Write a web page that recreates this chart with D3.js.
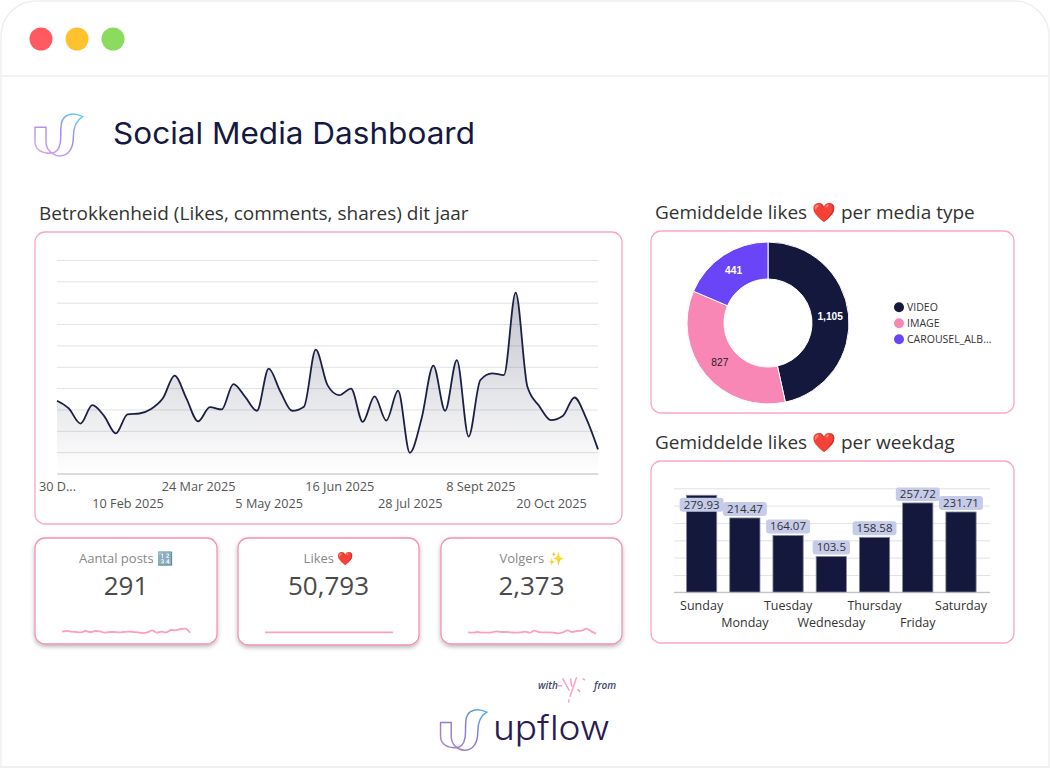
<!DOCTYPE html>
<html>

<head>
  <title>Social Media Dashboard</title>
  <style>
    html, body { margin: 0; padding: 0; background: #fff; overflow: hidden; }
    text { font-family: "Open Sans", "Noto Sans", sans-serif; }
  </style>
</head>

<body>

  <svg id="main" width="1050" height="768"></svg>

  <script src="https://cdn.jsdelivr.net/npm/d3@7"></script>
  <script>

    // weekly engagement, 30 Dec 2024 up to 17 Nov 2025
    const engagementValues = [
      341, 305, 234, 320, 270, 188, 277, 281, 302, 352, 458, 352,
      244, 311, 300, 419, 359, 294, 491, 383, 294, 313, 580, 414,
      367, 398, 242, 361, 248, 388, 97, 258, 505, 294, 531, 173,
      438, 469, 461, 847, 406, 316, 250, 269, 356, 258, 113
    ]
    const engagementTicks = ['2024-12-30', '2025-02-10', '2025-03-24', '2025-05-05', '2025-06-16', '2025-07-28', '2025-09-08', '2025-10-20']
    const engagementTickLabels = ['30 D...', '10 Feb 2025', '24 Mar 2025', '5 May 2025', '16 Jun 2025', '28 Jul 2025', '8 Sept 2025', '20 Oct 2025']

    const mediaTypes = ['VIDEO', 'IMAGE', 'CAROUSEL_ALB...']
    const mediaLikes = [1105, 827, 441]
    const mediaColors = ['#13183c', '#f987b5', '#6a45f7']

    const weekdays = ['Sunday', 'Monday', 'Tuesday', 'Wednesday', 'Thursday', 'Friday', 'Saturday']
    const weekdayLikes = [279.93, 214.47, 164.07, 103.5, 158.58, 257.72, 231.71]

    const kpiTitles = ['Aantal posts 🔢', 'Likes ❤️', 'Volgers ✨']
    const kpiValues = ['291', '50,793', '2,373']
    const postsSpark = [9, 11, 9, 8, 7, 11, 8, 11, 10, 6, 8, 8, 7, 8, 9, 8, 7, 5, 7, 13, 6, 9, 7, 14, 13, 17, 18, 6]
    const likesSpark = [7, 7, 7, 7, 7, 7, 7, 7, 7, 7, 7, 7, 7, 7, 7, 7, 7, 7, 7, 7, 7, 7, 7, 7, 7, 7, 7, 7]
    const followersSpark = [7, 6, 8, 6, 6, 7, 10, 8, 8, 7, 6, 7, 9, 6, 12, 8, 7, 7, 6, 4, 7, 13, 8, 11, 12, 18, 10, 3]

    const pink = '#fba6c9'
    const navy = '#13183c'
    const svg = d3.select('#main')
    const defs = svg.append('defs')

    function addGradient(id, x1, y1, x2, y2, stops) {
      const g = defs.append('linearGradient').attr('id', id)
        .attr('x1', x1).attr('y1', y1).attr('x2', x2).attr('y2', y2)
      stops.forEach(s => g.append('stop').attr('offset', s[0]).attr('stop-color', s[1]).attr('stop-opacity', s[2]))
    }
    addGradient('areaFade', 0, 0, 0, 1, [[0, navy, 0.26], [0.45, navy, 0.14], [1, navy, 0]])
    addGradient('logoTop', 0, 1, 1, 0, [[0, '#e6a6e6', 1], [0.55, '#a58cf0', 1], [1, '#55d6f2', 1]])
    addGradient('logoBottom', 0, 1, 1, 0, [[0, '#b08ac8', 1], [0.55, '#8a78d0', 1], [1, '#45b6ee', 1]])
    const sparkShadow = defs.append('filter').attr('id', 'cardShadow')
      .attr('x', '-10%').attr('y', '-10%').attr('width', '120%').attr('height', '125%')
    sparkShadow.append('feDropShadow').attr('dx', 0).attr('dy', 2).attr('stdDeviation', 2)
      .attr('flood-color', '#000').attr('flood-opacity', 0.28)

    drawWindow()
    drawHeader()
    drawLineChart()
    drawDonut()
    drawBars()
    drawKpis()
    drawFooter()


    function drawWindow() {
      svg.append('path')
        .attr('d', 'M1,767 V36 A35,35 0 0 1 36,1 H1014 A35,35 0 0 1 1049,36 V767 Z')
        .attr('fill', '#fff').attr('stroke', '#efefef').attr('stroke-width', 1.5)
      svg.append('line').attr('x1', 1).attr('x2', 1049).attr('y1', 76).attr('y2', 76)
        .attr('stroke', '#efefef').attr('stroke-width', 1.5)
      svg.append('line').attr('x1', 0).attr('x2', 1050).attr('y1', 767).attr('y2', 767)
        .attr('stroke', '#efefef').attr('stroke-width', 1.5)
      svg.selectAll('circle.dot').data(['#ff5a5f', '#ffc22e', '#8bdb5e']).join('circle')
        .attr('class', 'dot')
        .attr('cx', (d, i) => 41 + i * 36).attr('cy', 39).attr('r', 11.5).attr('fill', d => d)
    }

    function drawLogo(x, y, k, gradient) {
      svg.append('path')
        .attr('transform', `translate(${x},${y}) scale(${k / 3})`)
        .attr('d', 'M78,82 H45 V125 C45,150 68,160 90,160 C108,160 118,148 121,128 C125,100 116,62 138,48 C152,40 172,42 188,50 C170,60 160,78 160,112 C160,142 148,168 118,168 C98,166 78,150 78,125 Z')
        .attr('fill', 'none').attr('stroke', `url(#${gradient})`).attr('stroke-width', 4.5)
    }

    function drawHeader() {
      drawLogo(20, 100, 1, 'logoTop')
      svg.append('text').text('Social Media Dashboard')
        .attr('x', 113).attr('y', 144)
        .attr('textLength', 362).attr('lengthAdjust', 'spacingAndGlyphs')
        .style('font-family', 'Inter').attr('font-size', 30).attr('font-weight', 400).attr('fill', '#15193f')

      const titles = [
        ['Betrokkenheid (Likes, comments, shares) dit jaar', 39, 220],
        ['Gemiddelde likes ❤️ per media type', 655, 219],
        ['Gemiddelde likes ❤️ per weekdag', 655, 449]
      ]
      svg.selectAll('text.section').data(titles).join('text')
        .attr('class', 'section').text(d => d[0])
        .attr('x', d => d[1]).attr('y', d => d[2])
        .attr('font-size', 19).attr('fill', '#333')
    }

    function card(x, y, w, h) {
      return svg.append('rect').attr('x', x).attr('y', y).attr('width', w).attr('height', h).attr('rx', 10)
        .attr('fill', '#fff').attr('stroke', pink).attr('stroke-width', 1.3)
    }

    function drawLineChart() {
      card(35, 232, 587, 292)

      const dates = d3.utcMonday.range(new Date(Date.UTC(2024, 11, 30)), new Date(Date.UTC(2025, 10, 18)))
      const x = d3.scaleUtc().domain(d3.extent(dates)).range([57, 598])
      const y = d3.scaleLinear().domain([0, 1000]).range([473.5, 260])
      const parse = d3.utcParse('%Y-%m-%d')

      const grid = svg.append('g').attr('transform', 'translate(57,0)')
        .call(d3.axisLeft(y).ticks(10).tickSize(-541).tickFormat(''))
      grid.select('.domain').remove()
      grid.selectAll('line').attr('stroke', '#e2e2e2')

      const area = d3.area().x((d, i) => x(dates[i])).y0(y(0)).y1(d => y(d)).curve(d3.curveMonotoneX)
      const line = d3.line().x((d, i) => x(dates[i])).y(d => y(d)).curve(d3.curveMonotoneX)
      svg.append('path').datum(engagementValues).attr('d', area).attr('fill', 'url(#areaFade)')
      svg.append('path').datum(engagementValues).attr('d', line)
        .attr('fill', 'none').attr('stroke', '#1c2044').attr('stroke-width', 1.8)

      const axis = svg.append('g').attr('transform', `translate(0,${y(0)})`)
        .call(d3.axisBottom(x)
          .tickValues(engagementTicks.map(parse))
          .tickSize(0)
          .tickFormat((d, i) => engagementTickLabels[i]))
      axis.select('.domain').attr('stroke', '#c8c8c8')
      axis.selectAll('text')
        .style('font-family', '"Open Sans"').attr('font-size', 12.7).attr('fill', '#555')
        .attr('dy', 0)
        .attr('y', (d, i) => i % 2 ? 34 : 17.5)
    }

    function drawDonut() {
      card(651, 231, 363, 182)

      const pie = d3.pie().sort(null).value(d => d)
      const arc = d3.arc().innerRadius(44).outerRadius(81)
      const g = svg.append('g').attr('transform', 'translate(768,323)')

      g.selectAll('path').data(pie(mediaLikes)).join('path')
        .attr('d', arc).attr('fill', (d, i) => mediaColors[i])
        .attr('stroke', '#fff').attr('stroke-width', 1)

      g.selectAll('text').data(pie(mediaLikes)).join('text')
        .text(d => d3.format(',')(d.data))
        .attr('transform', d => `translate(${arc.centroid(d)})`)
        .attr('text-anchor', 'middle').attr('dy', '0.35em')
        .style('font-family', '"Liberation Sans"').attr('font-size', 10.2)
        .attr('font-weight', (d, i) => i === 1 ? 400 : 700)
        .attr('fill', (d, i) => i === 1 ? '#222' : '#fff')

      const legend = svg.append('g').selectAll('g').data(mediaTypes).join('g')
        .attr('transform', (d, i) => `translate(899,${307.3 + i * 16})`)
      legend.append('circle').attr('r', 5).attr('fill', (d, i) => mediaColors[i])
      legend.append('text').text(d => d).attr('x', 8).attr('dy', '0.35em')
        .attr('font-size', 10.5).attr('fill', '#333')
    }

    function drawBars() {
      card(651, 461, 363, 182)

      const x = d3.scaleBand().domain(weekdays).range([680, 982.6]).paddingInner(0.3).paddingOuter(0.15)
      const y = d3.scaleLinear().domain([0, 300]).range([592.3, 488.3])

      const grid = svg.append('g').attr('transform', 'translate(674,0)')
        .call(d3.axisLeft(y).ticks(6).tickSize(-316).tickFormat(''))
      grid.select('.domain').remove()
      grid.selectAll('line').attr('stroke', '#e2e2e2')

      svg.append('g').selectAll('rect').data(weekdays).join('rect')
        .attr('x', d => x(d)).attr('width', x.bandwidth())
        .attr('y', (d, i) => y(weekdayLikes[i]))
        .attr('height', (d, i) => y(0) - y(weekdayLikes[i]))
        .attr('fill', navy).attr('stroke', '#85879f').attr('stroke-width', 0.8)

      const axis = svg.append('g').attr('transform', `translate(0,${y(0)})`)
        .call(d3.axisBottom(x).tickSize(0))
      axis.select('.domain').attr('d', 'M674,0H990').attr('stroke', '#bbb')
      axis.selectAll('text')
        .style('font-family', '"Open Sans"').attr('font-size', 12.5).attr('fill', '#333')
        .attr('dy', 0)
        .attr('y', (d, i) => i % 2 ? 35 : 18)

      // value tags, cut off at the top of the plot like in the original
      defs.append('clipPath').attr('id', 'barClip').append('rect')
        .attr('x', 660).attr('y', 487.5).attr('width', 345).attr('height', 120)
      const tags = svg.append('g').attr('clip-path', 'url(#barClip)')
        .selectAll('g').data(weekdays).join('g')
        .attr('transform', (d, i) => {
          const top = y(weekdayLikes[i])
          return `translate(${x(d) + x.bandwidth() / 2},${weekdayLikes[i] > 270 ? top + 2.5 : top - 16})`
        })
      tags.append('text').text((d, i) => weekdayLikes[i])
        .attr('y', 7).attr('dy', '0.35em').attr('text-anchor', 'middle')
        .attr('font-size', 11.5).attr('fill', '#333')
      tags.each(function () {
        const g = d3.select(this)
        const w = g.select('text').node().getComputedTextLength()
        g.insert('rect', 'text').attr('x', -w / 2 - 4).attr('y', 0).attr('width', w + 8).attr('height', 14)
          .attr('rx', 3).attr('fill', '#c6cbea')
      })
    }

    function drawKpis() {
      const boxes = [[35, 538, 182, 106, 62, 190, postsSpark], [238, 538, 181, 107, 265, 393, likesSpark], [441, 538, 181, 106, 468, 596, followersSpark]]
      boxes.forEach((b, i) => {
        card(b[0], b[1], b[2], b[3]).attr('stroke', '#f78fb9').attr('filter', 'url(#cardShadow)')
        const cx = b[0] + b[2] / 2
        svg.append('text').text(kpiTitles[i]).attr('x', cx).attr('y', 563)
          .attr('text-anchor', 'middle').attr('font-size', 13).attr('fill', '#888')
        svg.append('text').text(kpiValues[i]).attr('x', cx).attr('y', 595)
          .attr('text-anchor', 'middle').attr('font-size', 26).attr('fill', '#4a4a4a')

        const sx = d3.scaleLinear().domain([0, b[6].length - 1]).range([b[4], b[5]])
        const sy = d3.scaleLinear().domain([0, 20]).range([634.7, 628])
        svg.append('path').datum(b[6])
          .attr('d', d3.line().x((d, j) => sx(j)).y(d => sy(d)).curve(d3.curveMonotoneX))
          .attr('fill', 'none').attr('stroke', '#fb9fc4').attr('stroke-width', 1.8)
      })
    }

    function drawFooter() {
      svg.append('text').text('with').attr('x', 538).attr('y', 689)
        .attr('font-size', 10).attr('font-style', 'italic').attr('font-weight', 600).attr('fill', '#3b4a6b')
      svg.append('text').text('from').attr('x', 594).attr('y', 689)
        .attr('font-size', 10).attr('font-style', 'italic').attr('font-weight', 600).attr('fill', '#3b4a6b')

      // little firework between with / from
      svg.append('path')
        .attr('transform', 'translate(420,670) scale(0.3333)')
        .attr('d', 'M428,25 L448,62 M470,22 L450,80 M452,25 L455,50 M473,58 L480,66 M488,26 L495,30 M447,88 L446,98 M413,47 L426,47')
        .attr('fill', 'none').attr('stroke', '#f9a0c4').attr('stroke-width', 4.5)

      drawLogo(426, 696, 0.97, 'logoBottom')
      svg.append('text').text('upflow').attr('x', 493).attr('y', 740)
        .attr('textLength', 117).attr('lengthAdjust', 'spacingAndGlyphs')
        .style('font-family', 'Inter').attr('font-size', 34).attr('font-weight', 300).attr('fill', '#2b1b55')
    }

  </script>
</body>

</html>
